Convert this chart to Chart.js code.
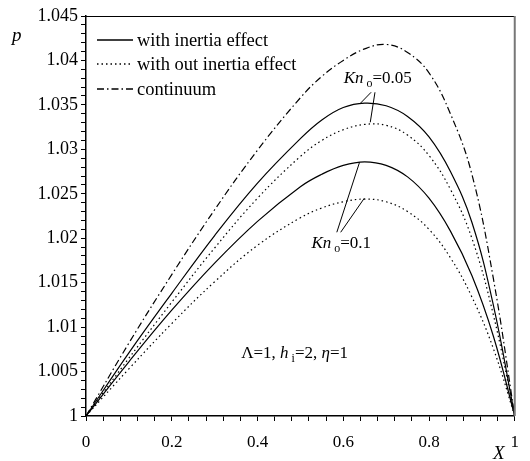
<!DOCTYPE html>
<html>
<head>
<meta charset="utf-8">
<script src="https://cdn.jsdelivr.net/npm/chart.js@4/dist/chart.umd.min.js"></script>
<style>
  html, body { margin: 0; padding: 0; background: #fff; }
  #wrap { width: 530px; height: 461px; }
</style>
</head>
<body>
<div id="wrap"><canvas id="chart" width="530" height="461"></canvas></div>
<script>
var X = [0, 0.1, 0.2, 0.3, 0.4, 0.5, 0.55, 0.6, 0.65, 0.7, 0.75, 0.8, 0.85, 0.9, 0.95, 1];
var continuum = [1, 1.0082, 1.0159, 1.0232, 1.0299, 1.0358, 1.0382, 1.0400, 1.0413, 1.0418, 1.0409, 1.0386, 1.0340, 1.0272, 1.0155, 1];
var inertia005 = [1, 1.0071, 1.0138, 1.0203, 1.0262, 1.0312, 1.0333, 1.0347, 1.0352, 1.0349, 1.0337, 1.0314, 1.0275, 1.0218, 1.0125, 1];
var noInertia005 = [1, 1.0065, 1.0128, 1.0189, 1.0245, 1.0292, 1.0310, 1.0322, 1.0328, 1.0327, 1.0316, 1.0293, 1.0255, 1.0200, 1.0114, 1];
var inertia01 = [1, 1.0061, 1.0119, 1.0172, 1.0219, 1.0258, 1.0272, 1.0282, 1.0286, 1.0282, 1.0269, 1.0245, 1.0208, 1.0158, 1.0090, 1];
var noInertia01 = [1, 1.0053, 1.0104, 1.0151, 1.0192, 1.0223, 1.0234, 1.0241, 1.0244, 1.0241, 1.0230, 1.0210, 1.0178, 1.0134, 1.0076, 1];

var legendLabels = ['with inertia effect', 'with out inertia effect', 'continuum'];
var SERIF = "'Liberation Serif', serif";
var DOT = [1.5, 3];
var DASHDOT = [7, 3, 1.5, 3];

function pts(ys) {
  return X.map(function(x, i) { return { x: x, y: ys[i] }; });
}

function line(label, ys, dash) {
  return {
    label: label,
    data: pts(ys),
    borderColor: '#000',
    borderWidth: 1.2,
    borderDash: dash,
    pointRadius: 0,
    fill: false,
    tension: 0.4
  };
}

// draws runs of text, some italic, some subscript
function runs(ctx, parts, x, y, size) {
  parts.forEach(function(p) {
    var s = p.sub ? size * 0.7 : size;
    ctx.font = (p.it ? 'italic ' : '') + s + 'px ' + SERIF;
    ctx.fillText(p.t, x, p.sub ? y + size * 0.2 : y);
    x += ctx.measureText(p.t).width;
  });
}

var extras = {
  id: 'extras',
  afterDraw: function(chart) {
    var ctx = chart.ctx;
    var a = chart.chartArea;
    var sx = chart.scales.x, sy = chart.scales.y;
    function px(x) { return sx.getPixelForValue(x); }
    function py(y) { return sy.getPixelForValue(y); }
    ctx.save();

    // frame top and right
    ctx.strokeStyle = '#000';
    ctx.lineWidth = 1;
    ctx.beginPath();
    ctx.moveTo(a.left, a.top + 0.5);
    ctx.lineTo(a.right, a.top + 0.5);
    ctx.stroke();
    ctx.strokeStyle = '#777';
    ctx.lineWidth = 2;
    ctx.beginPath();
    ctx.moveTo(a.right, a.top);
    ctx.lineTo(a.right, a.bottom);
    ctx.stroke();

    // legend
    var dashes = [[], DOT, DASHDOT];
    var ly = [a.top + 24, a.top + 48, a.top + 73];
    ctx.fillStyle = '#000';
    ctx.textBaseline = 'alphabetic';
    for (var i = 0; i < 3; i++) {
      ctx.strokeStyle = '#000';
      ctx.lineWidth = 1.3;
      ctx.setLineDash(dashes[i]);
      ctx.beginPath();
      ctx.moveTo(a.left + 11, ly[i]);
      ctx.lineTo(a.left + 47, ly[i]);
      ctx.stroke();
      ctx.setLineDash([]);
      ctx.font = '18.5px ' + SERIF;
      ctx.fillText(legendLabels[i], a.left + 51, ly[i] + 6);
    }

    // Kn labels and pointer lines
    ctx.lineWidth = 1;
    ctx.strokeStyle = '#000';
    function seg(x1, y1, x2, y2) {
      ctx.beginPath();
      ctx.moveTo(px(x1), py(y1));
      ctx.lineTo(px(x2), py(y2));
      ctx.stroke();
    }
    runs(ctx, [{t: 'Kn', it: true}, {t: ' o', sub: true}, {t: '=0.05'}], px(0.601), py(1.03743), 17);
    seg(0.665, 1.03642, 0.640, 1.03518);
    seg(0.674, 1.03642, 0.663, 1.03304);
    runs(ctx, [{t: 'Kn', it: true}, {t: ' o', sub: true}, {t: '=0.1'}], px(0.526), py(1.01887), 17);
    seg(0.585, 1.02067, 0.638, 1.02854);
    seg(0.594, 1.02067, 0.649, 1.02449);
    runs(ctx, [{t: '\u039b=1, '}, {t: 'h', it: true}, {t: ' i', sub: true}, {t: '=2, '}, {t: '\u03b7', it: true}, {t: '=1'}], px(0.362), py(1.00649), 17);

    // axis titles
    ctx.font = 'italic 19px ' + SERIF;
    ctx.fillText('p', 12, 41);
    ctx.fillText('X', 493, 459);
    ctx.restore();
  }
};

new Chart(document.getElementById('chart'), {
  type: 'line',
  data: {
    datasets: [
      line('continuum', continuum, DASHDOT),
      line('Kno=0.05 with inertia', inertia005, []),
      line('Kno=0.05 without inertia', noInertia005, DOT),
      line('Kno=0.1 with inertia', inertia01, []),
      line('Kno=0.1 without inertia', noInertia01, DOT)
    ]
  },
  options: {
    responsive: false,
    animation: false,
    layout: { padding: { top: 16, right: 5, left: 0, bottom: 0 } },
    plugins: { legend: { display: false }, tooltip: { enabled: false } },
    scales: {
      x: {
        type: 'linear',
        min: 0,
        max: 1,
        afterFit: function(s) { s.height = 45; },
        ticks: {
          stepSize: 0.04,
          autoSkip: false,
          maxRotation: 0,
          padding: 11,
          color: '#000',
          font: { family: SERIF, size: 17 },
          callback: function(v) {
            var k = Math.round(v * 100);
            return k % 20 === 0 ? String(k / 100) : '';
          }
        },
        grid: { drawOnChartArea: false, tickLength: 5, color: '#000' },
        border: { color: '#000', width: 1.5 }
      },
      y: {
        type: 'linear',
        min: 1,
        max: 1.045,
        afterFit: function(s) { s.width = 86; },
        ticks: {
          stepSize: 0.001,
          autoSkip: false,
          padding: 3,
          color: '#000',
          font: { family: SERIF, size: 18 },
          callback: function(v) {
            var k = Math.round((v - 1) * 1000);
            return k % 5 === 0 ? String(parseFloat((1 + k / 1000).toFixed(3))) : '';
          }
        },
        grid: { drawOnChartArea: false, tickLength: 5, color: '#000' },
        border: { color: '#000', width: 1.5 }
      }
    }
  },
  plugins: [extras]
});
</script>
</body>
</html>
